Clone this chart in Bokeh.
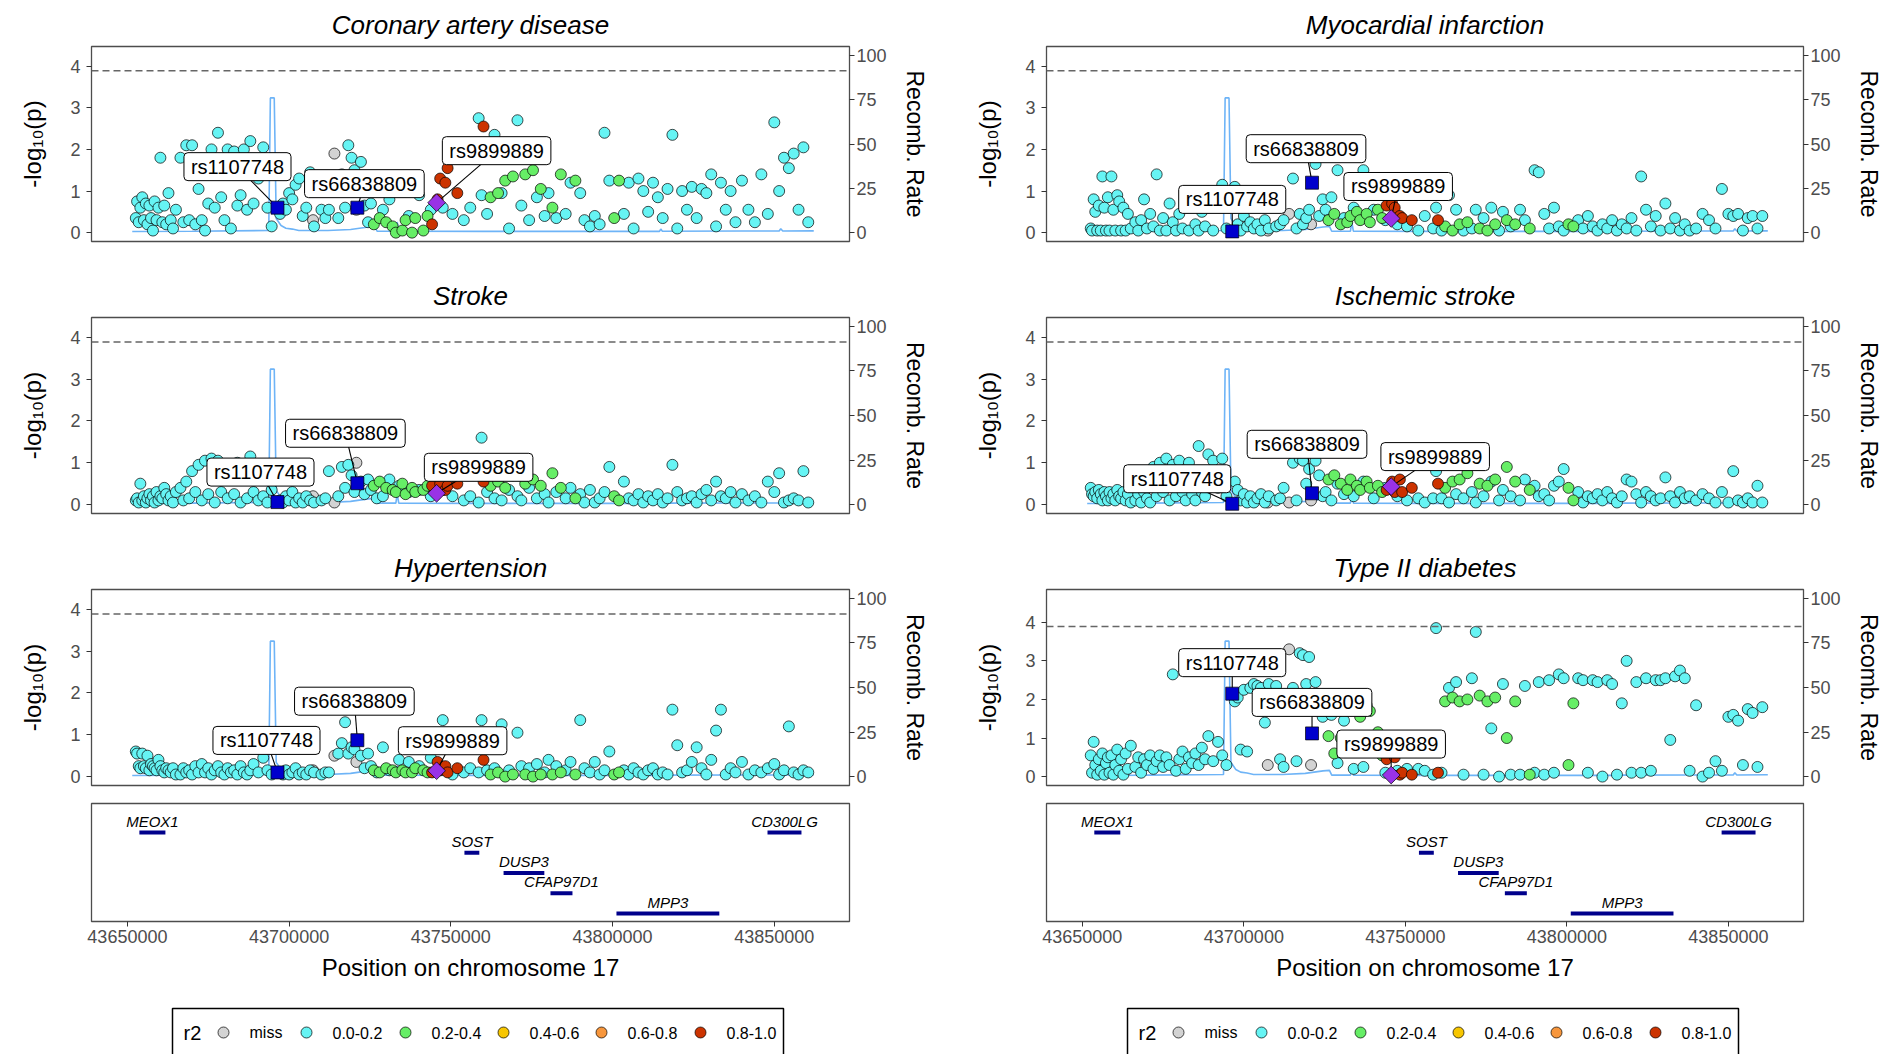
import numpy as np
from bokeh.plotting import figure
from bokeh.models import Range1d, LinearAxis, Span, Label, ColumnDataSource, FixedTicker, BasicTickFormatter
from bokeh.layouts import row, column
from bokeh.embed import file_html
from bokeh.resources import INLINE
from bokeh.core.properties import value

# ---------------- data ----------------
snp_pos = [
    43652600, 43653000, 43653500, 43654000, 43654600, 43655100, 43655700, 43656200, 43656800, 43657300,
    43657900, 43658400, 43659000, 43659600, 43660200, 43660800, 43661400, 43662000, 43662700, 43663400,
    43664100, 43665000,
    43666400, 43667300, 43668200, 43669100, 43670000, 43671000, 43672000, 43673000, 43674000, 43675000,
    43676000, 43677000, 43678000, 43679000, 43680000, 43681000, 43682000, 43683000, 43684000, 43685000,
    43686000, 43687000, 43688000, 43689000, 43690500, 43692000, 43693300, 43694600,
    43697200, 43698100, 43699000, 43700000, 43701000, 43702000, 43703100, 43704200, 43705300, 43706500,
    43707700, 43707400, 43710000, 43711200,
    43712300, 43714000, 43715200, 43716300, 43717300, 43718300, 43719300, 43720200, 43720800, 43722200,
    43723300, 43724400,
    43725300, 43726200, 43727100, 43728000, 43729000, 43730000, 43731000, 43732000, 43733000, 43734000,
    43735000, 43736000, 43737000, 43738000, 43739000, 43740200, 43741500, 43742800, 43743800,
    43744200, 43745900, 43746700, 43747500, 43748300, 43749000, 43750500, 43752000, 43754000, 43756000,
    43758600, 43759500, 43760100,
    43761200, 43762300, 43763500, 43764600, 43765700, 43766800, 43768000, 43769200, 43770600, 43771800,
    43773000, 43774200, 43775400, 43776600, 43777800, 43779000, 43780200, 43781400, 43782600, 43784000,
    43785500, 43787000, 43788500, 43790000, 43791300,
    43793000, 43794500, 43796000, 43797500, 43799000, 43800500, 43802000, 43803500, 43805000, 43806500,
    43808000, 43809500, 43811000, 43812500, 43814000, 43815500, 43817000, 43818500, 43820000, 43821500,
    43823000, 43824500, 43826000, 43827500, 43829000, 43830500, 43832000, 43833500, 43835000, 43836500,
    43838000, 43840000, 43842000, 43844000, 43846000, 43848000, 43850000, 43851500, 43853000, 43854500,
    43856000, 43857500, 43859000, 43860500,
]
# r2 class index: 0 miss, 1 0.0-0.2, 2 0.2-0.4, 3 0.4-0.6, 4 0.6-0.8, 5 0.8-1.0
snp_r2 = (
    [1] * 50
    + [1] * 11 + [0] + [1] * 2
    + [1, 0, 1, 1, 1, 1, 1, 1, 0, 1, 1, 1]
    + [1, 2, 1, 2, 1, 2, 1, 2, 2, 1, 2, 2, 1, 2, 2, 1, 2, 2, 1]
    + [5, 5, 5, 1, 5, 5, 1, 5, 1, 1, 1, 1, 5]
    + [1, 2, 1, 2, 1, 2, 1, 2, 1, 1, 2, 1, 2, 1, 2, 1, 1, 2, 1, 2, 1, 1, 2, 1, 1]
    + [1, 1, 1, 1, 1, 2, 2] + [1] * 37
)

cad = [
    0.35, 0.75, 0.25, 0.60, 0.85, 0.30, 0.70, 0.20, 0.65, 0.35, 0.05, 0.75, 0.30, 0.60, 1.80, 0.25, 0.65, 0.20, 0.95, 0.30, 0.10, 0.55,
    1.80, 0.25, 2.10, 0.30, 2.10, 0.20, 1.05, 0.30, 0.05, 0.70, 2.00, 0.60, 2.40, 0.85, 0.30, 2.00, 0.10, 1.95, 0.65, 0.90, 2.00, 0.55, 2.20, 0.70, 1.30, 2.05, 0.60, 0.15,
    0.45, 0.70, 0.55, 0.95, 0.80, 1.15, 1.30, 0.40, 0.60, 1.45, 0.15, 0.30, 0.55, 0.35,
    0.55, 1.90, 0.35, 1.40, 0.60, 2.10, 1.80, 1.50, 0.55, 1.70, 0.65, 0.25,
    0.70, 0.20, 1.10, 0.35, 0.55, 0.25, 0.80, 0.15, 0.00, 1.20, 0.05, 0.30, 0.40, 0.00, 0.35, 0.90, 0.05, 0.40, 0.55,
    0.20, 0.80, 1.30, 0.60, 1.20, 1.55, 0.45, 0.95, 0.30, 0.60, 2.75, 0.90, 2.55,
    0.45, 0.85, 2.35, 0.95, 0.95, 1.25, 0.10, 1.35, 2.70, 0.65, 1.40, 0.30, 1.50, 0.85, 1.05, 0.40, 0.95, 0.60, 0.35, 1.40, 0.45, 1.20, 1.25, 0.95, 0.30,
    0.15, 0.40, 0.20, 2.40, 1.25, 0.35, 1.25, 0.45, 1.20, 0.10, 1.30, 1.00, 0.50, 1.20, 0.85, 0.35, 1.05, 2.35, 0.10, 1.00,
    0.55, 1.10, 0.35, 1.05, 0.95, 1.40, 0.15, 1.20, 0.55, 1.00, 0.25, 1.25, 0.55, 0.25, 1.40, 0.45, 2.65, 1.00, 1.80, 1.55, 1.90, 0.55, 2.05, 0.25,
]
mi = [
    0.10, 0.05, 0.80, 0.50, 0.05, 0.65, 0.05, 1.35, 0.60, 0.05, 0.85, 0.05, 1.35, 0.55, 0.05, 0.90, 0.75, 0.05, 0.60, 0.05, 0.45, 0.10,
    0.25, 0.05, 0.30, 0.80, 0.10, 0.45, 0.15, 1.40, 0.05, 0.35, 0.05, 0.70, 0.25, 0.05, 0.45, 0.10, 0.60, 0.05, 0.95, 0.20, 0.05, 0.50, 0.15, 0.60, 0.05, 0.90, 1.15, 0.10,
    1.10, 0.20, 0.05, 0.40, 0.15, 0.25, 0.10, 0.20, 0.05, 0.30, 0.10, 0.05, 0.15, 0.20,
    0.30, 0.45, 1.30, 0.10, 0.45, 0.20, 0.35, 0.55, 0.20, 1.65, 0.40, 0.80,
    0.55, 0.30, 0.85, 0.45, 1.50, 0.20, 0.35, 0.25, 0.40, 0.60, 0.50, 0.30, 1.50, 0.45, 0.25, 0.55, 0.55, 0.35, 0.30,
    0.65, 0.70, 0.60, 0.20, 0.40, 0.35, 0.15, 0.30, 0.05, 0.40, 0.10, 0.60, 0.30,
    0.05, 0.15, 0.90, 0.05, 0.55, 0.20, 0.05, 0.25, 0.10, 0.55, 0.10, 0.35, 0.05, 0.60, 0.20, 0.05, 0.50, 0.30, 0.15, 0.20, 0.55, 0.30, 0.10, 1.50, 1.45,
    0.45, 0.10, 0.60, 0.15, 0.05, 0.20, 0.15, 0.30, 0.10, 0.40, 0.15, 0.05, 0.20, 0.10, 0.30, 0.05, 0.20, 0.10, 0.35, 0.05,
    1.35, 0.55, 0.15, 0.40, 0.05, 0.70, 0.10, 0.35, 0.05, 0.20, 0.05, 0.10, 0.45, 0.30, 0.10, 1.05, 0.45, 0.40, 0.45, 0.05, 0.35, 0.40, 0.10, 0.40,
]
stroke = [
    0.10, 0.15, 0.05, 0.50, 0.10, 0.20, 0.05, 0.15, 0.25, 0.10, 0.20, 0.05, 0.30, 0.10, 0.20, 0.15, 0.40, 0.25, 0.10, 0.20, 0.05, 0.30,
    0.40, 0.10, 0.55, 0.15, 0.80, 0.30, 0.95, 0.10, 1.05, 0.25, 1.10, 0.05, 1.05, 0.30, 0.85, 0.15, 0.70, 0.25, 1.00, 0.05, 0.80, 0.15, 1.15, 0.30, 0.10, 0.20, 0.05, 0.35,
    0.10, 0.05, 0.20, 0.10, 0.30, 0.05, 0.15, 0.05, 0.20, 0.10, 0.05, 0.20, 0.10, 0.15,
    0.80, 0.05, 0.20, 0.90, 0.40, 0.95, 0.70, 0.30, 1.00, 0.55, 0.25, 0.60,
    0.35, 0.45, 0.15, 0.55, 0.20, 0.40, 0.60, 0.35, 0.30, 0.45, 0.50, 0.25, 0.30, 0.40, 0.30, 0.35, 0.35, 0.45, 0.20,
    0.45, 0.30, 0.50, 0.35, 0.35, 0.45, 0.20, 0.50, 0.10, 0.20, 0.05, 1.60, 0.55,
    0.30, 0.45, 0.15, 0.55, 0.10, 0.40, 0.35, 0.70, 0.20, 0.10, 0.50, 0.40, 0.60, 0.15, 0.45, 0.25, 0.05, 0.75, 0.30, 0.40, 0.15, 0.40, 0.15, 0.25, 0.05,
    0.35, 0.05, 0.15, 0.30, 0.90, 0.20, 0.10, 0.55, 0.15, 0.10, 0.25, 0.05, 0.20, 0.10, 0.25, 0.05, 0.15, 0.95, 0.30, 0.10,
    0.15, 0.20, 0.05, 0.25, 0.35, 0.10, 0.55, 0.20, 0.15, 0.30, 0.05, 0.25, 0.10, 0.20, 0.05, 0.55, 0.30, 0.75, 0.05, 0.10, 0.15, 0.10, 0.80, 0.05,
]
ischemic = [
    0.40, 0.25, 0.20, 0.30, 0.15, 0.35, 0.25, 0.10, 0.30, 0.20, 0.10, 0.30, 0.15, 0.25, 0.10, 0.35, 0.20, 0.15, 0.30, 0.10, 0.25, 0.05,
    0.10, 0.25, 0.05, 0.30, 0.15, 0.05, 0.90, 0.20, 1.00, 0.30, 1.10, 0.10, 0.95, 0.20, 1.05, 0.30, 0.10, 1.00, 0.25, 0.10, 1.40, 0.30, 0.20, 1.20, 1.05, 0.40, 1.10, 0.20,
    0.55, 0.35, 0.10, 0.25, 0.05, 0.20, 0.05, 0.15, 0.25, 0.05, 0.20, 0.05, 0.10, 0.15,
    0.40, 0.05, 1.00, 0.10, 1.10, 1.05, 0.50, 0.85, 0.10, 1.05, 0.70, 0.20,
    0.30, 0.60, 0.10, 0.70, 0.50, 0.50, 0.25, 0.35, 0.60, 0.20, 0.45, 0.35, 0.55, 0.55, 0.40, 0.15, 0.45, 0.30, 0.40,
    0.35, 0.55, 0.30, 0.20, 0.60, 0.30, 0.10, 0.40, 0.15, 0.05, 0.15, 0.80, 0.50,
    0.15, 0.40, 0.05, 0.55, 0.25, 0.60, 0.15, 0.75, 0.30, 0.05, 0.50, 0.20, 0.45, 0.55, 0.60, 0.10, 0.35, 0.90, 0.20, 0.55, 0.10, 0.60, 0.35, 0.45, 0.20,
    0.25, 0.10, 0.45, 0.55, 0.85, 0.40, 0.10, 0.30, 0.05, 0.20, 0.15, 0.25, 0.10, 0.30, 0.15, 0.05, 0.20, 0.60, 0.55, 0.25,
    0.05, 0.30, 0.20, 0.10, 0.15, 0.65, 0.20, 0.05, 0.30, 0.15, 0.20, 0.10, 0.25, 0.15, 0.05, 0.30, 0.05, 0.80, 0.10, 0.05, 0.15, 0.05, 0.45, 0.05,
]
hypertension = [
    0.60, 0.55, 0.25, 0.20, 0.55, 0.25, 0.20, 0.50, 0.15, 0.30, 0.25, 0.20, 0.15, 0.40, 0.25, 0.15, 0.10, 0.20, 0.15, 0.10, 0.20, 0.05,
    0.05, 0.20, 0.10, 0.15, 0.05, 0.25, 0.10, 0.30, 0.10, 0.20, 0.05, 0.15, 0.25, 0.10, 0.05, 0.20, 0.10, 0.15, 0.05, 0.25, 0.10, 0.05, 0.15, 0.30, 0.10, 0.45, 0.15, 0.05,
    0.10, 0.05, 0.15, 0.05, 0.10, 0.20, 0.05, 0.10, 0.05, 0.15, 0.10, 0.15, 0.05, 0.10,
    0.10, 0.50, 0.55, 0.80, 1.30, 0.55, 0.70, 0.65, 0.35, 0.50, 0.20, 0.55,
    0.25, 0.15, 0.10, 0.10, 0.70, 0.20, 0.15, 0.15, 0.10, 0.40, 0.15, 0.10, 0.35, 0.10, 0.20, 0.25, 0.15, 0.10, 0.45,
    0.10, 0.35, 0.15, 1.35, 0.25, 0.10, 0.05, 0.20, 0.10, 0.20, 0.10, 1.35, 0.40,
    0.15, 0.05, 0.20, 0.10, 1.25, 0.00, 0.15, 0.05, 1.05, 0.25, 0.05, 0.20, 0.00, 0.30, 0.05, 0.10, 0.40, 0.05, 0.25, 0.10, 0.15, 0.35, 0.05, 1.35, 0.20,
    0.10, 0.35, 0.05, 0.15, 0.60, 0.05, 0.10, 0.15, 0.05, 0.20, 0.10, 0.05, 0.15, 0.20, 0.05, 0.10, 0.05, 1.60, 0.75, 0.10,
    0.15, 0.35, 0.70, 0.20, 0.05, 0.40, 1.10, 1.60, 0.05, 0.20, 0.10, 0.35, 0.05, 0.15, 0.10, 0.20, 0.30, 0.05, 0.15, 1.20, 0.10, 0.05, 0.15, 0.10,
]
t2d = [
    0.55, 0.10, 0.90, 0.30, 0.05, 0.45, 0.15, 0.60, 0.05, 0.35, 0.50, 0.10, 0.55, 0.05, 0.30, 0.70, 0.15, 0.45, 0.05, 0.60, 0.20, 0.80,
    0.25, 0.50, 0.10, 0.45, 0.30, 0.55, 0.20, 0.40, 0.55, 0.25, 0.50, 0.30, 2.65, 0.15, 0.45, 0.65, 0.20, 0.50, 0.35, 0.60, 0.30, 0.75, 0.45, 1.05, 0.40, 0.90, 0.55, 0.30,
    1.95, 2.05, 0.70, 2.25, 0.65, 2.30, 2.40, 2.35, 2.30, 1.40, 2.40, 0.30, 2.35, 0.45,
    0.25, 3.30, 2.30, 0.40, 3.20, 3.15, 2.40, 3.10, 0.30, 2.45, 2.05, 1.55,
    1.80, 1.05, 1.60, 0.60, 0.35, 1.00, 1.45, 0.90, 0.80, 0.20, 1.80, 1.55, 0.25, 1.85, 1.70, 1.05, 1.15, 0.55, 0.10,
    0.45, 0.05, 0.50, 0.15, 0.05, 0.10, 0.20, 0.05, 0.20, 0.15, 0.05, 3.85, 0.10,
    0.10, 1.95, 2.30, 2.05, 2.45, 1.95, 0.05, 2.00, 2.55, 3.75, 2.10, 0.05, 1.95, 1.25, 2.05, 0.00, 2.40, 1.00, 0.05, 1.95, 0.05, 2.35, 0.05, 0.10, 2.45,
    0.05, 2.50, 0.10, 2.65, 2.55, 0.30, 1.90, 2.55, 2.50, 0.10, 2.50, 2.45, 0.00, 2.50, 2.40, 0.05, 1.90, 3.00, 0.10, 2.45,
    0.10, 2.55, 0.15, 2.50, 2.50, 2.55, 0.95, 2.60, 2.75, 2.55, 0.15, 1.85, 0.00, 0.10, 0.40, 0.15, 1.55, 1.60, 1.45, 0.30, 1.75, 1.65, 0.25, 1.80,
]

# labelled SNPs: two reference SNPs (squares) and the lead SNP (diamond)
label_names = ["rs1107748", "rs66838809", "rs9899889"]
label_pos = [43696400, 43721100, 43745600]
cad_lab = [0.60, 0.60, 0.72]
mi_lab = [0.03, 1.20, 0.34]
stroke_lab = [0.06, 0.51, 0.27]
ischemic_lab = [0.02, 0.27, 0.43]
hypertension_lab = [0.10, 0.87, 0.14]
t2d_lab = [2.15, 1.12, 0.04]

threshold = 3.89

recomb_pos = [43651500, 43670000, 43693700, 43694200, 43695400, 43696000, 43697500, 43699000, 43701000,
              43703000, 43712000, 43719000, 43724500, 43726500, 43727200, 43733000, 43733400, 43733900,
              43760000, 43790000, 43814500, 43814900, 43815400, 43840000, 43851500, 43852000, 43852600, 43862200]
recomb_rate = [0.6, 0.8, 1.2, 76.0, 76.0, 8.0, 4.0, 2.5, 2.0, 1.2, 1.2, 1.8, 3.2, 3.5, 0.8, 0.8, 6.0, 0.8,
               0.7, 0.7, 0.7, 2.0, 0.8, 0.9, 0.9, 2.2, 0.9, 1.0]

gene_names = ["MEOX1", "SOST", "DUSP3", "CFAP97D1", "MPP3", "CD300LG"]
gene_start = [43653700, 43754200, 43766300, 43780800, 43801200, 43847900]
gene_end = [43661750, 43758800, 43778900, 43787600, 43833000, 43858400]
gene_row = [0, 1, 2, 3, 4, 0]

r2_labels = ["miss", "0.0-0.2", "0.2-0.4", "0.4-0.6", "0.6-0.8", "0.8-1.0"]
r2_colors = ["#D3D3D3", "#66F4F4", "#66EE66", "#F7C600", "#F7963C", "#CC3300"]

x_ticks = [43650000, 43700000, 43750000, 43800000, 43850000]

for arr in (snp_r2, cad, mi, stroke, ischemic, hypertension, t2d):
    assert len(arr) == len(snp_pos), (len(arr), len(snp_pos))

# ---------------- layout / style ----------------
FONT = "Liberation Sans"
X_RANGE = (43638900, 43873250)
LEFT_B = 91
FRAME_H = 196
COLS = [dict(w=955, fw=758), dict(w=934, fw=757)]
ROWS = [dict(h=270, top=45, bottom=29), dict(h=272, top=47, bottom=29), dict(h=253, top=47, bottom=10)]
TICK_COL = "#4D4D4D"


def make_panel(title, vals, lab_vals, ymax, col, rw, offsets):
    cw, fw = col["w"], col["fw"]
    p = figure(width=cw, height=rw["h"], x_range=Range1d(*X_RANGE),
               y_range=Range1d(-0.05 * ymax, 1.05 * ymax),
               output_backend="svg", toolbar_location=None,
               min_border_left=LEFT_B, min_border_right=cw - LEFT_B - fw,
               min_border_top=rw["top"], min_border_bottom=rw["bottom"], title=title)
    p.title.text_font = FONT
    p.title.text_font_size = "26px"
    p.title.text_font_style = "italic"
    p.title.align = "center"
    p.title.text_color = "black"
    p.title.standoff = 14
    p.xgrid.visible = False
    p.ygrid.visible = False
    p.xaxis.visible = False
    p.outline_line_color = "#4D4D4D"
    p.outline_line_width = 1.3
    p.background_fill_color = "white"

    ya = p.yaxis[0]
    ya.ticker = FixedTicker(ticks=[0, 1, 2, 3, 4])
    ya.axis_label = "-log\u2081\u2080(p)"

    p.extra_y_ranges = {"recomb": Range1d(-5, 105)}
    ra = LinearAxis(y_range_name="recomb", ticker=FixedTicker(ticks=[0, 25, 50, 75, 100]),
                    axis_label="Recomb. Rate")
    p.add_layout(ra, "right")
    for ax, st, ls, fs in ((ya, 21, 6, "24px"), (ra, 12, 2, "23px")):
        ax.axis_line_color = None
        ax.major_tick_line_color = "#333333"
        ax.major_tick_out = 5
        ax.major_tick_in = 0
        ax.minor_tick_line_color = None
        ax.major_label_text_font = FONT
        ax.major_label_text_font_size = "18px"
        ax.major_label_text_color = TICK_COL
        ax.major_label_standoff = ls
        ax.axis_label_text_font = FONT
        ax.axis_label_text_font_size = fs
        ax.axis_label_text_font_style = "normal"
        ax.axis_label_text_color = "black"
        ax.axis_label_standoff = st

    p.add_layout(Span(location=threshold, dimension="width", line_color="#666666",
                      line_dash="7 4", line_width=1.5))
    p.line(recomb_pos, recomb_rate, y_range_name="recomb", line_color="#6EB4F7", line_width=1.6)

    order = np.argsort(np.array(snp_r2), kind="stable")
    src = ColumnDataSource(dict(
        x=[snp_pos[i] for i in order],
        y=[vals[i] for i in order],
        c=[r2_colors[snp_r2[i]] for i in order],
    ))
    p.scatter("x", "y", source=src, size=11, fill_color="c", line_color="black", line_width=0.7)

    px_x = fw / (X_RANGE[1] - X_RANGE[0])
    px_y = FRAME_H / (1.1 * ymax)
    for name, xp, yv, (dx, dy) in zip(label_names, label_pos, lab_vals, offsets):
        lx = xp + dx / px_x
        ly = yv - dy / px_y
        p.segment(x0=[xp], y0=[yv], x1=[lx], y1=[ly], line_color="black", line_width=1.1)

    p.scatter(x=label_pos[:2], y=lab_vals[:2], marker="square", size=13,
              fill_color="#0000CD", line_color="black", line_width=0.7)
    p.scatter(x=label_pos[2:], y=lab_vals[2:], marker="square", angle=np.pi / 4, size=12.5,
              fill_color="#9932E6", line_color="black", line_width=0.7)

    for name, xp, yv, (dx, dy) in zip(label_names, label_pos, lab_vals, offsets):
        p.add_layout(Label(x=xp, y=yv, x_offset=dx, y_offset=-dy, text=name,
                           text_font=FONT, text_font_size="20px", text_color="black",
                           text_align="center", text_baseline="middle",
                           background_fill_color="white", border_line_color="black",
                           border_line_width=1,
                           padding=dict(left=7, right=7, top=3, bottom=3),
                           border_radius=4))
    return p


def make_genes(col):
    cw, fw = col["w"], col["fw"]
    g = figure(width=cw, height=190, x_range=Range1d(*X_RANGE), y_range=Range1d(-4.4, 1.43),
               output_backend="svg", toolbar_location=None,
               min_border_left=LEFT_B, min_border_right=cw - LEFT_B - fw,
               min_border_top=8, min_border_bottom=64)
    g.xgrid.visible = False
    g.ygrid.visible = False
    g.yaxis.visible = False
    g.outline_line_color = "#4D4D4D"
    g.outline_line_width = 1.3
    rows_y = [-r for r in gene_row]
    mids = [(a + b) / 2 for a, b in zip(gene_start, gene_end)]
    g.segment(x0=gene_start, y0=rows_y, x1=gene_end, y1=rows_y, line_color="#00008B", line_width=4)
    g.text(x=mids, y=[y + 0.14 for y in rows_y], text=gene_names, text_font=value(FONT),
           text_font_style="italic", text_font_size="15px", text_align="center",
           text_baseline="bottom", text_color="black")
    xa = g.xaxis[0]
    xa.ticker = FixedTicker(ticks=x_ticks)
    xa.formatter = BasicTickFormatter(use_scientific=False)
    xa.axis_line_color = None
    xa.major_tick_line_color = "#333333"
    xa.major_tick_out = 5
    xa.major_tick_in = 0
    xa.minor_tick_line_color = None
    xa.major_label_text_font = FONT
    xa.major_label_text_font_size = "18px"
    xa.major_label_text_color = TICK_COL
    xa.major_label_standoff = 3
    xa.axis_label = "Position on chromosome 17"
    xa.axis_label_text_font = FONT
    xa.axis_label_text_font_size = "24px"
    xa.axis_label_text_font_style = "normal"
    xa.axis_label_text_color = "black"
    xa.axis_label_standoff = 8
    return g


LEG_X = [223, 306, 405, 503, 601, 700]


def make_legend(col):
    cw, fw = col["w"], col["fw"]
    # the column aligns frames, so the frame spans LEFT_B .. LEFT_B+fw in screen px
    lg = figure(width=cw, height=69, x_range=Range1d(LEFT_B, LEFT_B + fw), y_range=Range1d(69, 0),
                output_backend="svg", toolbar_location=None,
                min_border_left=LEFT_B, min_border_right=cw - LEFT_B - fw,
                min_border_top=0, min_border_bottom=0)
    lg.xaxis.visible = False
    lg.yaxis.visible = False
    lg.xgrid.visible = False
    lg.ygrid.visible = False
    lg.outline_line_color = None
    lg.quad(left=[172], right=[783], top=[23], bottom=[95], fill_color=None,
            line_color="black", line_width=1.5)
    lg.text(x=[192], y=[47], text=["r2"], text_font=value(FONT), text_font_size="20px",
            text_align="center", text_baseline="middle", text_color="black")
    lg.scatter(x=LEG_X, y=[47] * len(LEG_X), size=11, fill_color=r2_colors,
               line_color="black", line_width=0.7)
    lg.text(x=[x + 26 for x in LEG_X], y=[47] * len(LEG_X), text=r2_labels,
            text_font=value(FONT), text_font_size="16px", text_align="left",
            text_baseline="middle", text_color="black")
    return lg


panels_left = [
    ("Coronary artery disease", cad, cad_lab, 4.26, [(-40, -41), (7, -24), (60, -52)]),
    ("Stroke", stroke, stroke_lab, 4.26, [(-17, -30), (-12, -50), (42, -26)]),
    ("Hypertension", hypertension, hypertension_lab, 4.26, [(-11, -32), (-3, -39), (16, -30)]),
]
panels_right = [
    ("Myocardial infarction", mi, mi_lab, 4.26, [(0, -32), (-6, -34), (7, -32)]),
    ("Ischemic stroke", ischemic, ischemic_lab, 4.26, [(-55, -25), (-5, -49), (44, -30)]),
    ("Type II diabetes", t2d, t2d_lab, 4.62, [(0, -31), (0, -31), (0, -31)]),
]

cols = []
for ci, panels in enumerate((panels_left, panels_right)):
    col = COLS[ci]
    figs = [make_panel(t, v, lv, ym, col, ROWS[ri], off) for ri, (t, v, lv, ym, off) in enumerate(panels)]
    figs.append(make_genes(col))
    figs.append(make_legend(col))
    cols.append(column(*figs, spacing=0))

layout = row(*cols, spacing=0)

html = file_html(layout, INLINE, title="Regional association plots")
html = html.replace("<head>", "<head><style>html,body{margin:0;padding:0;}</style>", 1)
open("out.html", "w").write(html)
